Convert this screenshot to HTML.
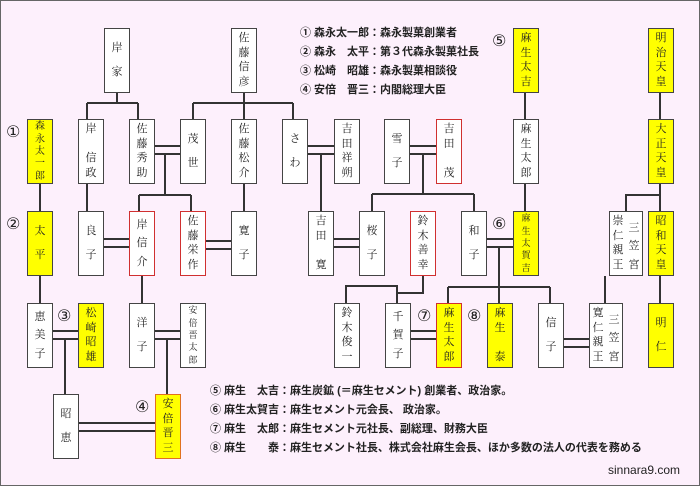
<!DOCTYPE html>
<html><head><meta charset="utf-8"><style>
body{margin:0;}
#c{position:relative;width:698px;height:484px;background:#fdf0fc;border:1px solid #666;overflow:hidden;font-family:"Liberation Serif","Noto Serif CJK SC",serif;}
svg{position:absolute;left:0;top:0;}
.b{position:absolute;box-sizing:border-box;border:1px solid #444;background:#fff;height:65px;width:26px;display:flex;flex-direction:column;justify-content:space-evenly;align-items:center;font-size:11px;line-height:11px;color:#222;}
.y{background:#ffff00;}
.r{border-color:#d03030;}
.o{border-color:#e07020;}
.t{display:flex;flex-direction:row;justify-content:space-around;}
.t div{display:flex;flex-direction:column;justify-content:space-evenly;height:100%;}
.n{position:absolute;font-family:"Liberation Sans","DejaVu Sans",sans-serif;font-size:16px;color:#222;}
.l{position:absolute;font-family:"Liberation Sans","Noto Sans CJK JP",sans-serif;font-size:11px;font-weight:bold;color:#222;white-space:pre;}
</style></head><body><div id="c">
<svg width="700" height="486" stroke="#333" stroke-width="2" fill="none">
<path d="M116 91V102M86 102H137M86 102V118M137 102V118"/>
<path d="M243 91V118M192 102H292M192 102V118M292 102V118"/>
<path d="M154 145H179M154 153H179M164 153V194M138 194H190M138 194V210M190 194V210"/>
<path d="M86 183V210M243 183V210M39 183V210M39 275V302M141 275V302"/>
<path d="M103 238H128M103 246H128M205 240H230M205 248H230"/>
<path d="M307 145H333M307 153H333M320 153V210"/>
<path d="M409 145H435M409 153H435M422 153V193M371 193H473M371 193V210M473 193V210"/>
<path d="M333 238H358M333 246H358M486 238H512M486 246H512M498 246V286M447 286H549M447 286V302M498 286V302M549 286V302"/>
<path d="M524 91V118M524 183V210M659 91V118M659 183V210M659 275V302M659 194H625V210M604 275V302"/>
<path d="M422 275V292H396M345 302V285H396V302"/>
<path d="M409 330H435M409 338H435M562 338H588M562 346H588"/>
<path d="M52 330H77M52 338H77M64 338V393M154 330H179M154 338H179M166 338V393M77 422H154M77 430H154"/>
</svg>
<div class="b" style="left:103px;top:27px"><span>岸</span><span>家</span></div>
<div class="b" style="left:230px;top:27px"><span>佐</span><span>藤</span><span>信</span><span>彦</span></div>
<div class="b y" style="left:512px;top:27px"><span>麻</span><span>生</span><span>太</span><span>吉</span></div>
<div class="b y" style="left:647px;top:27px"><span>明</span><span>治</span><span>天</span><span>皇</span></div>

<div class="b y" style="left:26px;top:118px;font-size:10px"><span>森</span><span>永</span><span>太</span><span>一</span><span>郎</span></div>
<div class="b" style="left:77px;top:118px"><span>岸</span><span>　</span><span>信</span><span>政</span></div>
<div class="b" style="left:128px;top:118px"><span>佐</span><span>藤</span><span>秀</span><span>助</span></div>
<div class="b" style="left:179px;top:118px"><span>茂</span><span>世</span></div>
<div class="b" style="left:230px;top:118px"><span>佐</span><span>藤</span><span>松</span><span>介</span></div>
<div class="b" style="left:281px;top:118px"><span>さ</span><span>わ</span></div>
<div class="b" style="left:333px;top:118px"><span>吉</span><span>田</span><span>祥</span><span>朔</span></div>
<div class="b" style="left:383px;top:118px"><span>雪</span><span>子</span></div>
<div class="b r" style="left:435px;top:118px"><span>吉</span><span>田</span><span>　</span><span>茂</span></div>
<div class="b" style="left:512px;top:118px"><span>麻</span><span>生</span><span>太</span><span>郎</span></div>
<div class="b y" style="left:647px;top:118px"><span>大</span><span>正</span><span>天</span><span>皇</span></div>

<div class="b y" style="left:26px;top:210px"><span>太</span><span>平</span></div>
<div class="b" style="left:77px;top:210px"><span>良</span><span>子</span></div>
<div class="b r" style="left:128px;top:210px"><span>岸</span><span>信</span><span>介</span></div>
<div class="b r" style="left:179px;top:210px"><span>佐</span><span>藤</span><span>栄</span><span>作</span></div>
<div class="b" style="left:230px;top:210px"><span>寛</span><span>子</span></div>
<div class="b" style="left:307px;top:210px"><span>吉</span><span>田</span><span>　</span><span>寛</span></div>
<div class="b" style="left:358px;top:210px"><span>桜</span><span>子</span></div>
<div class="b r" style="left:409px;top:210px"><span>鈴</span><span>木</span><span>善</span><span>幸</span></div>
<div class="b" style="left:460px;top:210px"><span>和</span><span>子</span></div>
<div class="b y" style="left:512px;top:210px;font-size:9px"><span>麻</span><span>生</span><span>太</span><span>賀</span><span>吉</span></div>
<div class="b t" style="left:608px;top:210px;width:34px"><div><span>崇</span><span>仁</span><span>親</span><span>王</span></div><div style="padding-top:6px"><span>三</span><span>笠</span><span>宮</span></div></div>
<div class="b y" style="left:647px;top:210px"><span>昭</span><span>和</span><span>天</span><span>皇</span></div>

<div class="b" style="left:26px;top:302px"><span>恵</span><span>美</span><span>子</span></div>
<div class="b y" style="left:77px;top:302px"><span>松</span><span>崎</span><span>昭</span><span>雄</span></div>
<div class="b" style="left:128px;top:302px"><span>洋</span><span>子</span></div>
<div class="b" style="left:179px;top:302px;font-size:9px"><span>安</span><span>倍</span><span>晋</span><span>太</span><span>郎</span></div>
<div class="b" style="left:333px;top:302px"><span>鈴</span><span>木</span><span>俊</span><span>一</span></div>
<div class="b" style="left:384px;top:302px"><span>千</span><span>賀</span><span>子</span></div>
<div class="b y r" style="left:435px;top:302px"><span>麻</span><span>生</span><span>太</span><span>郎</span></div>
<div class="b y" style="left:486px;top:302px"><span>麻</span><span>生</span><span>　</span><span>泰</span></div>
<div class="b" style="left:537px;top:302px"><span>信</span><span>子</span></div>
<div class="b t" style="left:588px;top:302px;width:34px"><div><span>寛</span><span>仁</span><span>親</span><span>王</span></div><div style="padding-top:6px"><span>三</span><span>笠</span><span>宮</span></div></div>
<div class="b y" style="left:647px;top:302px"><span>明</span><span>仁</span></div>

<div class="b" style="left:52px;top:393px"><span>昭</span><span>恵</span></div>
<div class="b y o" style="left:154px;top:393px"><span>安</span><span>倍</span><span>晋</span><span>三</span></div>

<div class="n" style="left:5px;top:121px">①</div>
<div class="n" style="left:5px;top:213px">②</div>
<div class="n" style="left:56px;top:305px">③</div>
<div class="n" style="left:134px;top:396px">④</div>
<div class="n" style="left:491px;top:30px">⑤</div>
<div class="n" style="left:491px;top:213px">⑥</div>
<div class="n" style="left:416px;top:305px">⑦</div>
<div class="n" style="left:466px;top:305px">⑧</div>

<div class="l" style="left:299px;top:23px">① 森永太一郎：森永製菓創業者</div>
<div class="l" style="left:299px;top:42px">② 森永　太平：第３代森永製菓社長</div>
<div class="l" style="left:299px;top:61px">③ 松崎　昭雄：森永製菓相談役</div>
<div class="l" style="left:299px;top:80px">④ 安倍　晋三：内閣総理大臣</div>
<div class="l" style="left:209px;top:381px">⑤ 麻生　太吉：麻生炭鉱 (＝麻生セメント) 創業者、政治家。</div>
<div class="l" style="left:209px;top:400px">⑥ 麻生太賀吉：麻生セメント元会長、 政治家。</div>
<div class="l" style="left:209px;top:419px">⑦ 麻生　太郎：麻生セメント元社長、副総理、財務大臣</div>
<div class="l" style="left:209px;top:438px">⑧ 麻生　　泰：麻生セメント社長、株式会社麻生会長、ほか多数の法人の代表を務める</div>
<div class="l" style="left:607px;top:462px;font-weight:normal;font-size:12px">sinnara9.com</div>
</div></body></html>
